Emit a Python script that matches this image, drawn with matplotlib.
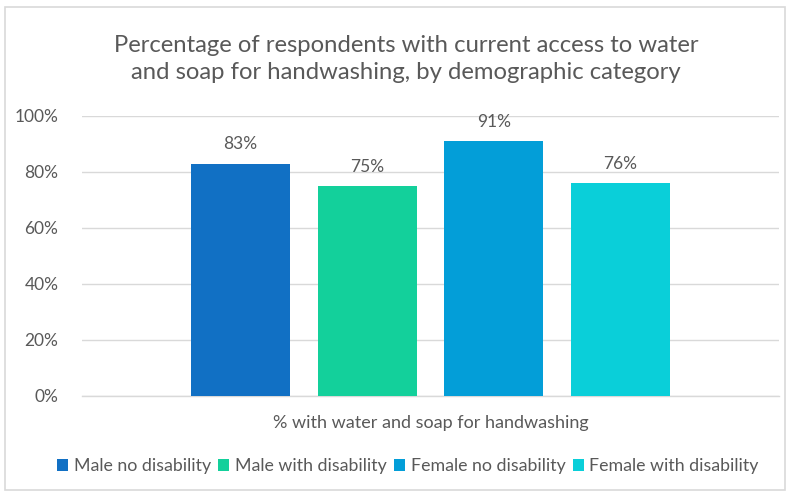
import matplotlib
matplotlib.use("Agg")
import matplotlib.pyplot as plt
from matplotlib.patches import Rectangle, Patch
from matplotlib.ticker import PercentFormatter

# Data
categories = ["Male no disability", "Male with disability",
              "Female no disability", "Female with disability"]
values = [0.83, 0.75, 0.91, 0.76]
group_label = "% with water and soap for handwashing"
title = ("Percentage of respondents with current access to water\n"
         "and soap for handwashing, by demographic category")
colors = ["#1170C4", "#13D09B", "#039ED8", "#0ACFD9"]

TEXT = "#595959"
GRID = "#D9D9D9"
FONT = "Lato"

W, H = 791, 496
fig = plt.figure(figsize=(W / 100, H / 100), dpi=100)
fig.patch.set_facecolor("white")

# Chart frame
fig.add_artist(Rectangle((5 / W, 1 - 490 / H), 780 / W, 483 / H,
                         transform=fig.transFigure, fill=False,
                         edgecolor=GRID, linewidth=1.2))

ax = fig.add_axes([82 / W, 1 - 396 / H, 697 / W, 280 / H])
x = list(range(len(values)))
bars = ax.bar(x, values, width=0.783, color=colors, zorder=3)

ax.set_xlim(-1.253, len(values) - 1 + 1.253)
ax.set_ylim(0, 1)
ax.set_yticks([0, 0.2, 0.4, 0.6, 0.8, 1.0])
ax.yaxis.set_major_formatter(PercentFormatter(1.0, decimals=0))
ax.grid(axis="y", color=GRID, linewidth=1.0, zorder=0)
for s in ["top", "right", "left"]:
    ax.spines[s].set_visible(False)
ax.spines["bottom"].set_color(GRID)
ax.spines["bottom"].set_linewidth(1.0)
ax.tick_params(axis="y", length=0, pad=17, labelsize=12.5, labelcolor=TEXT)
ax.tick_params(axis="x", length=0)
ax.set_xticks([])
for lab in ax.get_yticklabels():
    lab.set_fontfamily(FONT)

for b, v in zip(bars, values):
    ax.annotate(f"{v * 100:.0f}%", (b.get_x() + b.get_width() / 2, v),
                xytext=(0, 8), textcoords="offset points",
                ha="center", va="bottom", fontsize=12.5, color=TEXT,
                family=FONT)

ax.text(0.5, -0.095, group_label, transform=ax.transAxes, ha="center",
        va="center", fontsize=13, color=TEXT, family=FONT)

fig.text(406 / W, 1 - 59 / H, title, ha="center", va="center",
         fontsize=17.2, color=TEXT, family=FONT, linespacing=1.3)

handles = [Patch(facecolor=c, edgecolor="none") for c in colors]
fig.legend(handles, categories, loc="center", ncol=4,
           bbox_to_anchor=(408 / W, 1 - 466 / H), frameon=False,
           handlelength=0.62, handleheight=0.62, handletextpad=0.32,
           columnspacing=0.4, prop={"family": FONT, "size": 12.8},
           labelcolor=TEXT)

fig.savefig("out.png", dpi=100, facecolor="white")
